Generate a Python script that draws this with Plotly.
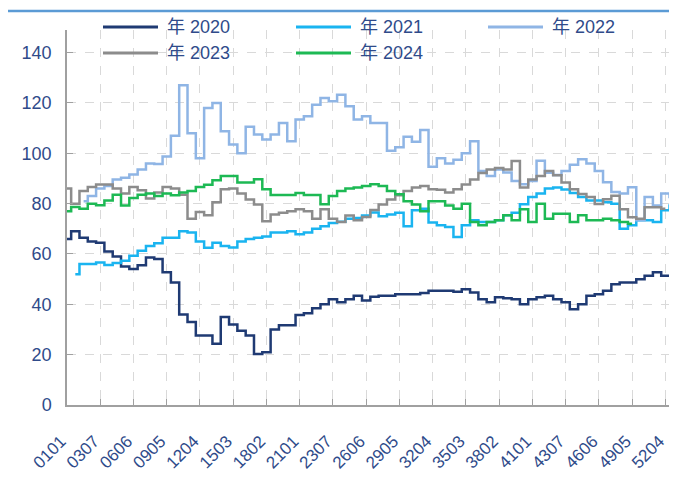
import plotly.graph_objects as go

# Category axis: week (01-53) + day (01-07) codes
categories = [f"{w:02d}{d:02d}" for w in range(1, 54) for d in range(1, 8)]
tick_labels = ["0101", "0307", "0606", "0905", "1204", "1503", "1802", "2101",
               "2307", "2606", "2905", "3204", "3503", "3802", "4101", "4307",
               "4606", "4905", "5204"]
# sampled every 5th category
x_cats = categories[0:370:5]

s2020 = [66, 69, 66.5, 65, 64.5, 61, 59, 55, 54, 55.5,
         58.6, 58, 52.7, 48.7, 36, 33, 27.6, 27.6, 24.3, 35,
         32, 29.5, 27.6, 20.3, 21, 30, 31.7, 31.7, 35.8, 36.5,
         38.4, 40, 42, 40.8, 42, 43.4, 41.5, 43, 43.4, 43.4,
         44, 44, 44, 44.5, 45.4, 45.4, 45.4, 45, 46, 44.7,
         42, 40.8, 42.8, 42.4, 42, 40, 42, 42.8, 43.4, 42,
         40.8, 38, 40, 43.4, 44, 45.4, 48, 48.7, 48.7, 50,
         51.4, 52.7, 51.4, 51.4]
s2021 = [None, 52, 56, 56, 56.6, 55.6, 56.4, 57.3, 59.3, 61.3,
         63.2, 64.3, 66.5, 66.5, 69, 68.5, 65, 62.5, 64.5, 63.2,
         62.6, 65, 66, 66.5, 67, 68.5, 68.5, 69, 67.8, 68.5,
         70, 71, 72.3, 72.8, 74, 74.3, 75.3, 76.5, 75, 75.7,
         76.4, 71, 77.4, 78, 72.5, 71.4, 70.7, 66.8, 71.4, 73.4,
         72.7, 72.7, 73.4, 75.4, 76.4, 79.8, 82.6, 84, 86, 86.4,
         85.6, 84.2, 82.6, 81.3, 81.3, 80.6, 80, 70, 71.4, 73.4,
         73.4, 72.7, 77.4, 79.3]
s2022 = [None, None, 81, 83, 86, 87, 89.6, 90.3, 91.6, 93.6,
         96, 95.8, 98.7, 107, 127, 108, 98, 118, 120, 108.8,
         103.5, 100, 110.6, 107.5, 105.5, 107.5, 112, 104.8, 113.4, 114.7,
         119.3, 122, 120.7, 123.3, 118.7, 113.4, 114.7, 112, 112, 101,
         102.4, 106.6, 104.6, 109.3, 94.7, 98, 96, 97.4, 100, 104.8,
         93, 91, 93.6, 92.4, 89, 87.7, 89, 97, 92.3, 91.4,
         93, 95.5, 97.6, 96, 93, 88.5, 84.6, 84, 86.5, 73.4,
         82.6, 79.3, 84, 82.6]
s2023 = [86, 80, 85, 86.6, 87.6, 87.6, 86, 84, 86.6, 85.3,
         82, 84.4, 86.6, 86, 83.5, 74, 76.7, 75.4, 80.6, 85.7,
         86, 84, 81.7, 79.7, 73, 75.7, 76.4, 77, 77.8, 77,
         74, 77.8, 74, 72.7, 75.3, 73.4, 74.7, 77.5, 79.7, 81.7,
         83.3, 85, 86.4, 87, 85.7, 85.5, 84.4, 85.7, 87.6, 89.6,
         92.2, 93.6, 94.2, 93.6, 96.9, 86.4, 89.6, 91, 93, 91.3,
         88.4, 85.7, 83.8, 82.6, 79.9, 81.8, 83.1, 77.8, 74.6, 74,
         78.6, 78.6, 78, None]
s2024 = [77, 78.7, 78, 80, 79.4, 81.3, 83.5, 79.3, 82.2, 83.5,
         84, 83, 84, 83.3, 84.4, 85, 86.6, 87.5, 89.3, 91,
         91, 88.4, 88.4, 89.7, 85.7, 83.4, 83.4, 83.4, 84.2, 83.4,
         83.4, 79.8, 83, 85, 86, 86.4, 87, 87.7, 87, 85,
         83.7, 81, 79.7, 77, 81, 81, 79.3, 78, 80, 72.7,
         71.4, 72.7, 73.4, 75.4, 73.4, 77.8, 72.7, 80, 74, 76,
         76, 72.7, 75.4, 73.4, 73.4, 74, 73.4, 72.7, 72, None,
         None, None, None, None]

series_names = ["年 2020", "年 2021", "年 2022", "年 2023", "年 2024"]
series_values = [s2020, s2021, s2022, s2023, s2024]
series_colors = ["#1F3A73", "#1AB4F0", "#8FB5E5", "#8C8C8C", "#1DB954"]

text_color = "#2F4B8A"
font_family = "Liberation Sans, Arial, Noto Sans CJK SC, sans-serif"

# Page body has an 8px margin: the figure is drawn 8px in from the window corner.
FIG_W, FIG_H = 669, 463
PLOT_L, PLOT_T, PLOT_W, PLOT_H = 59, 22, 610, 375


def px(xw):  # window x pixel -> paper x
    return (xw - 8 - PLOT_L) / PLOT_W


def py(yw):  # window y pixel -> paper y
    return (PLOT_T + PLOT_H - (yw - 8)) / PLOT_H


fig = go.Figure()
for name, vals, color in zip(series_names, series_values, series_colors):
    fig.add_trace(go.Scatter(
        x=x_cats, y=vals, name=name, mode="lines",
        line=dict(color=color, width=2.5, shape="hvh"),
        connectgaps=False, showlegend=False,
    ))

# manual legend (two rows, three columns)
legend_slots = [(103, 27), (296, 27), (488, 27), (103, 53), (296, 53)]
shapes = [dict(type="line", xref="paper", yref="paper",
               x0=-0.2, x1=1.05, y0=py(11), y1=py(11),
               line=dict(color="#5B9BD5", width=2.5))]
annotations = []
for (lx, ly), name, color in zip(legend_slots, series_names, series_colors):
    shapes.append(dict(type="line", xref="paper", yref="paper",
                       x0=px(lx), x1=px(lx + 55), y0=py(ly), y1=py(ly),
                       line=dict(color=color, width=3)))
    annotations.append(dict(xref="paper", yref="paper", x=px(lx + 62), y=py(ly),
                            xanchor="left", yanchor="middle", showarrow=False,
                            text=name, font=dict(size=18, color=text_color,
                                                 family=font_family)))

fig.update_layout(
    width=FIG_W, height=FIG_H,
    margin=dict(l=PLOT_L, r=FIG_W - PLOT_L - PLOT_W, t=PLOT_T,
                b=FIG_H - PLOT_T - PLOT_H, autoexpand=False),
    paper_bgcolor="white", plot_bgcolor="white",
    font=dict(family=font_family, size=17, color=text_color),
    showlegend=False,
    shapes=shapes,
    annotations=annotations,
)

fig.update_xaxes(
    type="category", categoryorder="array", categoryarray=categories,
    range=[0, 367],
    tickmode="array", tickvals=tick_labels, ticktext=tick_labels,
    tickangle=-45, tickfont=dict(size=17, color=text_color),
    ticks="inside", ticklen=6, tickcolor="#A0A0A0", tickwidth=1.2,
    showgrid=True, gridcolor="#D9D9D9", griddash="dash", gridwidth=1,
    showline=True, linecolor="#A0A0A0", linewidth=1.5,
    ticklabelstandoff=18, ticklabelshift=-6,
    zeroline=False, automargin=False,
)
fig.update_yaxes(
    range=[0, 149], tickmode="array", tickvals=[0, 20, 40, 60, 80, 100, 120, 140],
    tickfont=dict(size=18, color=text_color),
    ticks="inside", ticklen=6, tickcolor="#A0A0A0", tickwidth=1.2,
    showgrid=True, gridcolor="#D9D9D9", griddash="dash", gridwidth=1,
    showline=True, linecolor="#A0A0A0", linewidth=1.5,
    ticklabelstandoff=10,
    zeroline=False, automargin=False,
)

fig.write_html("out.html")
